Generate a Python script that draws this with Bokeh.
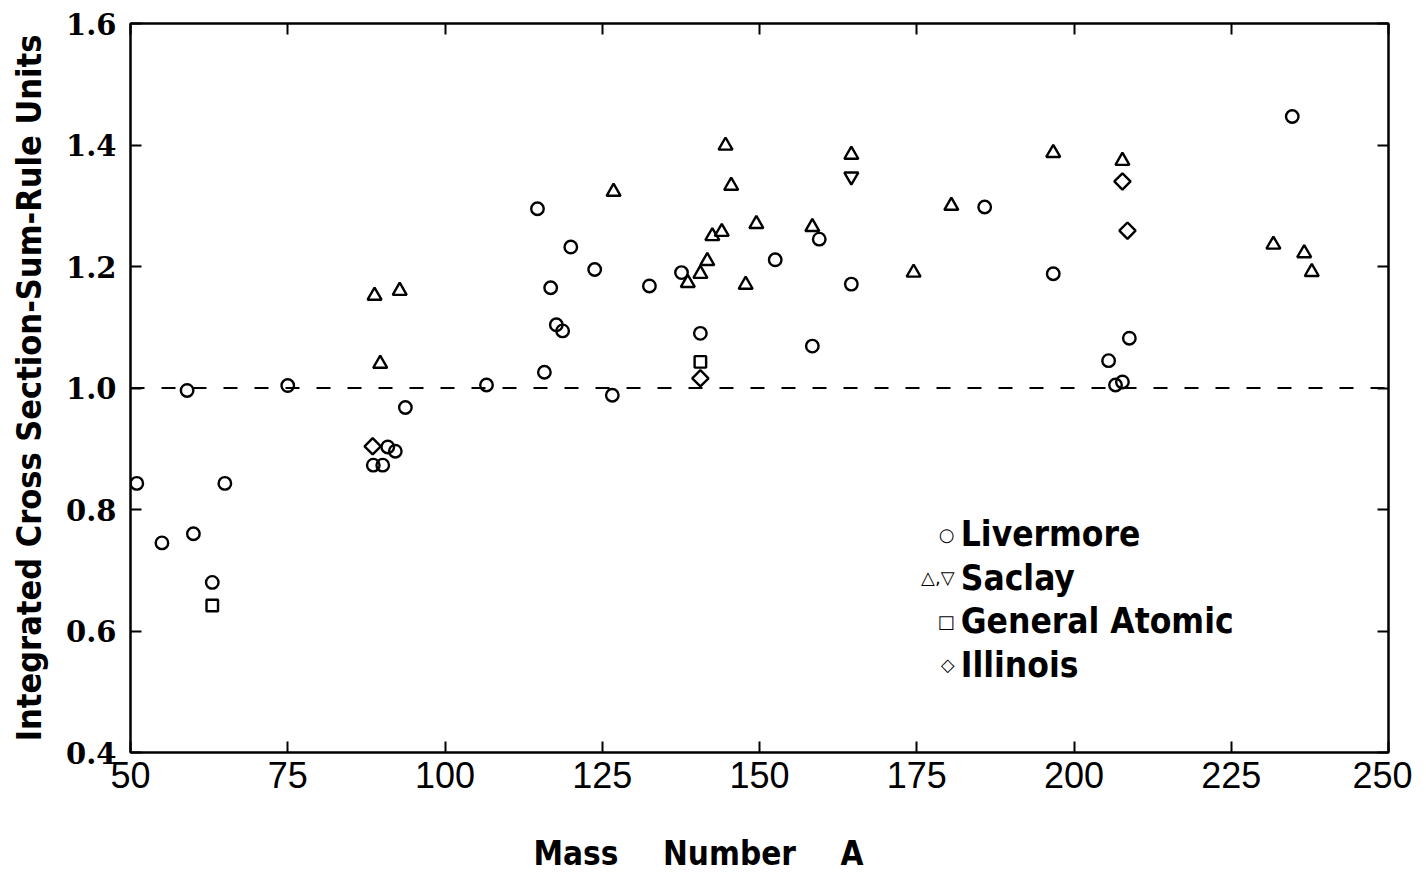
import numpy as np
from bokeh.plotting import figure
from bokeh.models import Span, Label, LinearAxis, FixedTicker, PrintfTickFormatter, Range1d, Title
from bokeh.embed import file_html
from bokeh.resources import INLINE

# ---------------- data ----------------
liv_A = [51, 55, 59, 60, 63, 65, 75, 88.6, 90.1, 90.9, 92.1, 93.7, 106.6, 114.7, 115.8,
         116.8, 117.7, 118.7, 120.0, 123.8, 126.6, 132.5, 137.6, 140.6, 152.5, 158.4,
         159.5, 164.6, 185.8, 196.7, 205.5, 206.6, 207.7, 208.8, 234.7]
liv_R = [0.843, 0.745, 0.996, 0.760, 0.680, 0.843, 1.004, 0.873, 0.873, 0.903, 0.896, 0.968,
         1.005, 1.295, 1.026, 1.165, 1.104, 1.094, 1.232, 1.195, 0.988, 1.168, 1.190, 1.090,
         1.211, 1.069, 1.245, 1.171, 1.298, 1.188, 1.045, 1.005, 1.010, 1.082, 1.447]

sac_up_A = [88.8, 89.7, 92.8, 126.8, 138.6, 140.6, 141.7, 142.5, 144.0, 144.6, 145.5,
            147.8, 149.5, 158.4, 164.6, 174.5, 180.5, 196.7, 207.7, 231.7, 236.6, 237.8]
sac_up_R = [1.152, 1.040, 1.160, 1.323, 1.173, 1.188, 1.209, 1.250, 1.257, 1.399, 1.333,
            1.170, 1.270, 1.265, 1.384, 1.190, 1.300, 1.387, 1.374, 1.236, 1.222, 1.191]
sac_dn_A = [164.6]
sac_dn_R = [1.348]

ga_A = [63, 140.6]
ga_R = [0.642, 1.043]

ill_A = [88.5, 140.6, 207.7, 208.5]
ill_R = [0.904, 1.016, 1.340, 1.259]

x_ticks = [50, 75, 100, 125, 150, 175, 200, 225, 250]
y_ticks = [0.4, 0.6, 0.8, 1.0, 1.2, 1.4, 1.6]

legend_names = ["Livermore", "Saclay", "General Atomic", "Illinois"]
legend_syms = ["\u25CB", "\u25B3,\u25BD", "\u25A1", "\u25C7"]

x_title = "Mass\u2003\u2002Number\u2003\u2002A"
y_title = "Integrated Cross Section-Sum-Rule Units"

# ---------------- figure ----------------
p = figure(frame_width=1258, frame_height=729,
           x_range=Range1d(50, 250), y_range=Range1d(0.4, 1.6),
           output_backend="svg", toolbar_location=None,
           min_border_left=130, min_border_right=24, min_border_top=23,
           min_border_bottom=20)
p.background_fill_color = "white"
p.border_fill_color = "white"
p.xgrid.grid_line_color = None
p.ygrid.grid_line_color = None
p.outline_line_color = "black"
p.outline_line_width = 2

TICK_FONT_X = "Liberation Sans"
TICK_FONT_Y = "DejaVu Serif"
TITLE_FONT = "DejaVu Sans Condensed, Liberation Sans, sans-serif"


def style_axis(ax, ticks, show_labels):
    ax.ticker = FixedTicker(ticks=ticks)
    ax.axis_line_color = "black"
    ax.axis_line_width = 2
    ax.major_tick_in = 11
    ax.major_tick_out = 0
    ax.major_tick_line_width = 2
    ax.major_tick_line_color = "black"
    ax.minor_tick_line_color = None
    if not show_labels:
        ax.major_label_text_font_size = "1px"
        ax.major_label_text_color = None
        ax.major_label_standoff = 0


xa = p.xaxis[0]
style_axis(xa, x_ticks, True)
xa.major_label_text_font = TICK_FONT_X
xa.major_label_text_font_size = "36px"
xa.major_label_text_color = "black"
xa.major_label_standoff = 9

ya = p.yaxis[0]
style_axis(ya, y_ticks, True)
ya.formatter = PrintfTickFormatter(format="%.1f")
ya.major_label_text_font = TICK_FONT_Y
ya.major_label_text_font_style = "bold"
ya.major_label_text_font_size = "29px"
ya.major_label_text_color = "black"
ya.major_label_standoff = 14
ya.axis_label = y_title
ya.axis_label_text_font = TITLE_FONT
ya.axis_label_text_font_style = "bold"
ya.axis_label_text_font_size = "34px"
ya.axis_label_text_color = "black"
ya.axis_label_standoff = 14

top = LinearAxis()
style_axis(top, x_ticks, False)
p.add_layout(top, "above")
right = LinearAxis()
style_axis(right, y_ticks, False)
p.add_layout(right, "right")

# x-axis title, set left of centre as in the original
p.add_layout(Title(text=x_title, align="left", offset=403, standoff=83,
                   text_font=TITLE_FONT, text_font_style="bold",
                   text_font_size="33px", text_color="black"), "below")

# reference line at unity
p.add_layout(Span(location=1.0, dimension="width", line_color="black",
                  line_width=2, line_dash="14 17"))

# ---------------- markers ----------------
common = dict(fill_color=None, line_color="black", line_width=2.4)
p.scatter(liv_A, liv_R, marker="circle", size=12.5, **common)
p.scatter(sac_up_A, sac_up_R, marker="triangle", size=14, **common)
p.scatter(sac_dn_A, sac_dn_R, marker="inverted_triangle", size=14, **common)
p.scatter(ga_A, ga_R, marker="square", size=11.5, **common)
p.scatter(ill_A, ill_R, marker="square", angle=np.pi / 4, size=11.5, **common)

# ---------------- legend (text block inside the frame) ----------------
leg_sym_x = 181.0
leg_txt_x = 182.0
leg_y0 = 0.759
leg_dy = 0.0715
for i, (sym, name) in enumerate(zip(legend_syms, legend_names)):
    yy = leg_y0 - i * leg_dy
    p.add_layout(Label(x=leg_sym_x, y=yy, text=sym, text_align="right",
                       text_baseline="middle", text_font="DejaVu Sans",
                       text_font_size="18px", text_color="black"))
    p.add_layout(Label(x=leg_txt_x, y=yy, text=name, text_align="left",
                       text_baseline="middle", text_font=TITLE_FONT,
                       text_font_style="bold", text_font_size="35px",
                       text_color="black"))

open("out.html", "w").write(file_html(p, INLINE))
